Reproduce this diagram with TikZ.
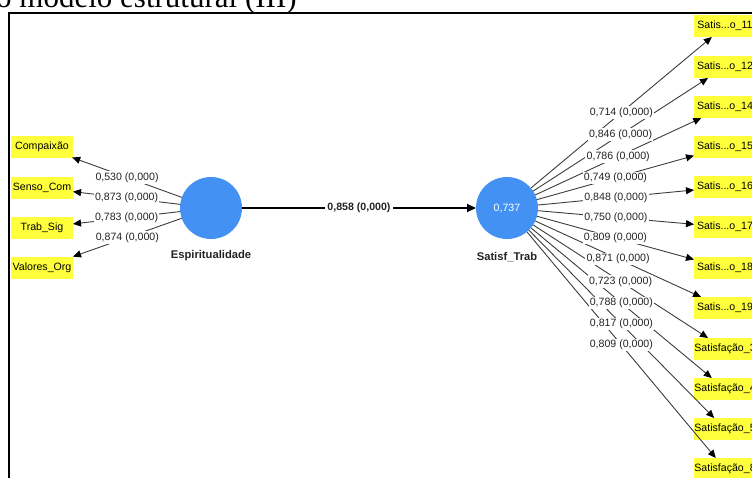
\documentclass[tikz,border=0pt]{standalone}
\usepackage{fontspec}
\setmainfont{Liberation Serif}
\setsansfont{Liberation Sans}
\usetikzlibrary{arrows.meta}
\definecolor{indyellow}{RGB}{255,255,60}
\definecolor{latblue}{RGB}{66,145,243}
\definecolor{linegray}{RGB}{60,60,60}
\definecolor{txtgray}{RGB}{35,35,35}
\tikzset{
  ind/.style={fill=indyellow, minimum width=62pt, minimum height=22pt, inner sep=0pt, outer sep=0pt,
    font=\sffamily\fontsize{10.6}{12}\selectfont, text=black},
  lat/.style={circle, fill=latblue, minimum size=62pt, inner sep=0pt, outer sep=0pt,
    font=\sffamily\fontsize{10.6}{12}\selectfont, text=white},
  latname/.style={font=\sffamily\bfseries\fontsize{11.2}{13}\selectfont, text=txtgray, inner sep=0pt},
  load/.style={draw=linegray, line width=0.9pt, -{Triangle[length=8pt,width=7pt,color=black]}},
  path/.style={draw=black, line width=1.8pt, -{Triangle[length=9pt,width=8pt,color=black]}},
  lbl/.style={fill=white, inner sep=1.2pt, font=\sffamily\fontsize{10.6}{12}\selectfont, text=txtgray},
  plbl/.style={fill=white, inner sep=2pt, font=\sffamily\bfseries\fontsize{10.6}{12}\selectfont, text=txtgray},
  frameline/.style={draw=black, line width=2pt}
}
\begin{document}
\begin{tikzpicture}[x=1pt,y=-1pt]
\useasboundingbox (0,0) rectangle (752,477);
\clip (0,0) rectangle (752,477);
% title (cut off at top)
\node[anchor=base west, inner sep=0pt, font=\rmfamily\fontsize{31}{31}\selectfont] (title) at (-4,7) {o modelo estrutural (III)};
% frame
\coordinate (fa) at (9,480);
\coordinate (fb) at (9,12.5);
\coordinate (fc) at (760,12.5);
\draw[frameline] (fa) -- (fb) -- (fc);
% latent variables
\node[lat] (esp) at (211,208) {};
\node[latname] (espname) at (211,256) {Espiritualidade};
\node[lat] (sat) at (507,208) {0,737};
\node[latname] (satname) at (507,257) {Satisf\_Trab};
% left indicators
\node[ind] (comp) at (42,146.5) {Compaixão};
\node[ind] (senso) at (42,188) {Senso\_Com};
\node[ind] (trab) at (42,227.5) {Trab\_Sig};
\node[ind] (valo) at (42,267.5) {Valores\_Org};
% right indicators
\node[ind] (r1) at (725,26) {Satis...o\_11};
\node[ind] (r2) at (725,67) {Satis...o\_12};
\node[ind] (r3) at (725,107) {Satis...o\_14};
\node[ind] (r4) at (725,147) {Satis...o\_15};
\node[ind] (r5) at (725,187) {Satis...o\_16};
\node[ind] (r6) at (725,227) {Satis...o\_17};
\node[ind] (r7) at (725,268) {Satis...o\_18};
\node[ind] (r8) at (725,308) {Satis...o\_19};
\node[ind] (r9) at (725,349) {Satisfação\_3};
\node[ind] (r10) at (725,389) {Satisfação\_4};
\node[ind] (r11) at (725,429) {Satisfação\_5};
\node[ind] (r12) at (725,469) {Satisfação\_8};
% left loadings
\draw[load] (esp) -- coordinate[midway] (lm1) (comp);
\draw[load] (esp) -- coordinate[midway] (lm2) (senso);
\draw[load] (esp) -- coordinate[midway] (lm3) (trab);
\draw[load] (esp) -- coordinate[midway] (lm4) (valo);
% right loadings
\foreach \i in {1,...,12}{
  \draw[load] (sat) -- coordinate[midway] (rm\i) (r\i);
}
% path
\draw[path] (esp) -- coordinate[midway] (pm) (sat);
% labels
\node[lbl] (l1) at (lm1) {0,530 (0,000)};
\node[lbl] (l2) at (lm2) {0,873 (0,000)};
\node[lbl] (l3) at (lm3) {0,783 (0,000)};
\node[lbl] (l4) at (lm4) {0,874 (0,000)};
\node[lbl] (q1) at (rm1) {0,714 (0,000)};
\node[lbl] (q2) at (rm2) {0,846 (0,000)};
\node[lbl] (q3) at (rm3) {0,786 (0,000)};
\node[lbl] (q4) at (rm4) {0,749 (0,000)};
\node[lbl] (q5) at (rm5) {0,848 (0,000)};
\node[lbl] (q6) at (rm6) {0,750 (0,000)};
\node[lbl] (q7) at (rm7) {0,809 (0,000)};
\node[lbl] (q8) at (rm8) {0,871 (0,000)};
\node[lbl] (q9) at (rm9) {0,723 (0,000)};
\node[lbl] (q10) at (rm10) {0,788 (0,000)};
\node[lbl] (q11) at (rm11) {0,817 (0,000)};
\node[lbl] (q12) at (rm12) {0,809 (0,000)};
\node[plbl] (pl) at (pm) {0,858 (0,000)};
\end{tikzpicture}
\end{document}
